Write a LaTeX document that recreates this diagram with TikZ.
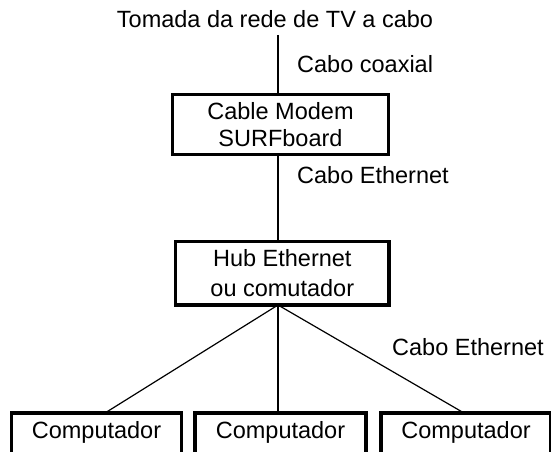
\documentclass[tikz,border=0pt]{standalone}
\usepackage{fontspec}
\setmainfont{Liberation Sans}
\begin{document}
\begin{tikzpicture}[x=1pt,y=-1pt,
  every node/.style={font=\fontsize{23.5}{27}\selectfont, inner sep=0pt},
  devbox/.style={draw, line width=3.2pt, align=center},
  compbox/.style={draw, line width=3.2pt, anchor=base, minimum width=170pt, text height=25pt, text depth=40pt},
  wire/.style={line width=1.2pt},
  lbl/.style={anchor=base west}]
\clip (0,0) rectangle (551,452);
\fill[white] (0,0) rectangle (551,452);

\node[anchor=base] (tomada) at (275,28) {Tomada da rede de TV a cabo};
\node[devbox, minimum width=216pt, minimum height=60pt] (modem) at (280.5,124.3) {Cable Modem\\SURFboard};
\node[devbox, minimum width=213.5pt, minimum height=63.5pt] (hub) at (282.3,273.3) {Hub Ethernet\\[3pt]ou comutador};

\node[compbox] (c1) at (96.5,438) {Computador};
\node[compbox, minimum width=171pt] (c2) at (280.5,438) {Computador};
\node[compbox] (c3) at (466,438) {Computador};

\node[lbl] (l1) at (297,72) {Cabo coaxial};
\node[lbl] (l2) at (297,183) {Cabo Ethernet};
\node[lbl] (l3) at (392,355) {Cabo Ethernet};

\coordinate (tap) at (278,35);
\coordinate (apex) at (278,305);
\coordinate (e1) at (105,413);
\coordinate (e3) at (464,413);

\draw[wire] (tap) -- (modem.north -| tap);
\draw[wire] (modem.south -| tap) -- (hub.north -| tap);
\draw[wire] (apex) -- (e1);
\draw[wire] (apex) -- (c2.north -| apex);
\draw[wire] (apex) -- (e3);
\end{tikzpicture}
\end{document}
